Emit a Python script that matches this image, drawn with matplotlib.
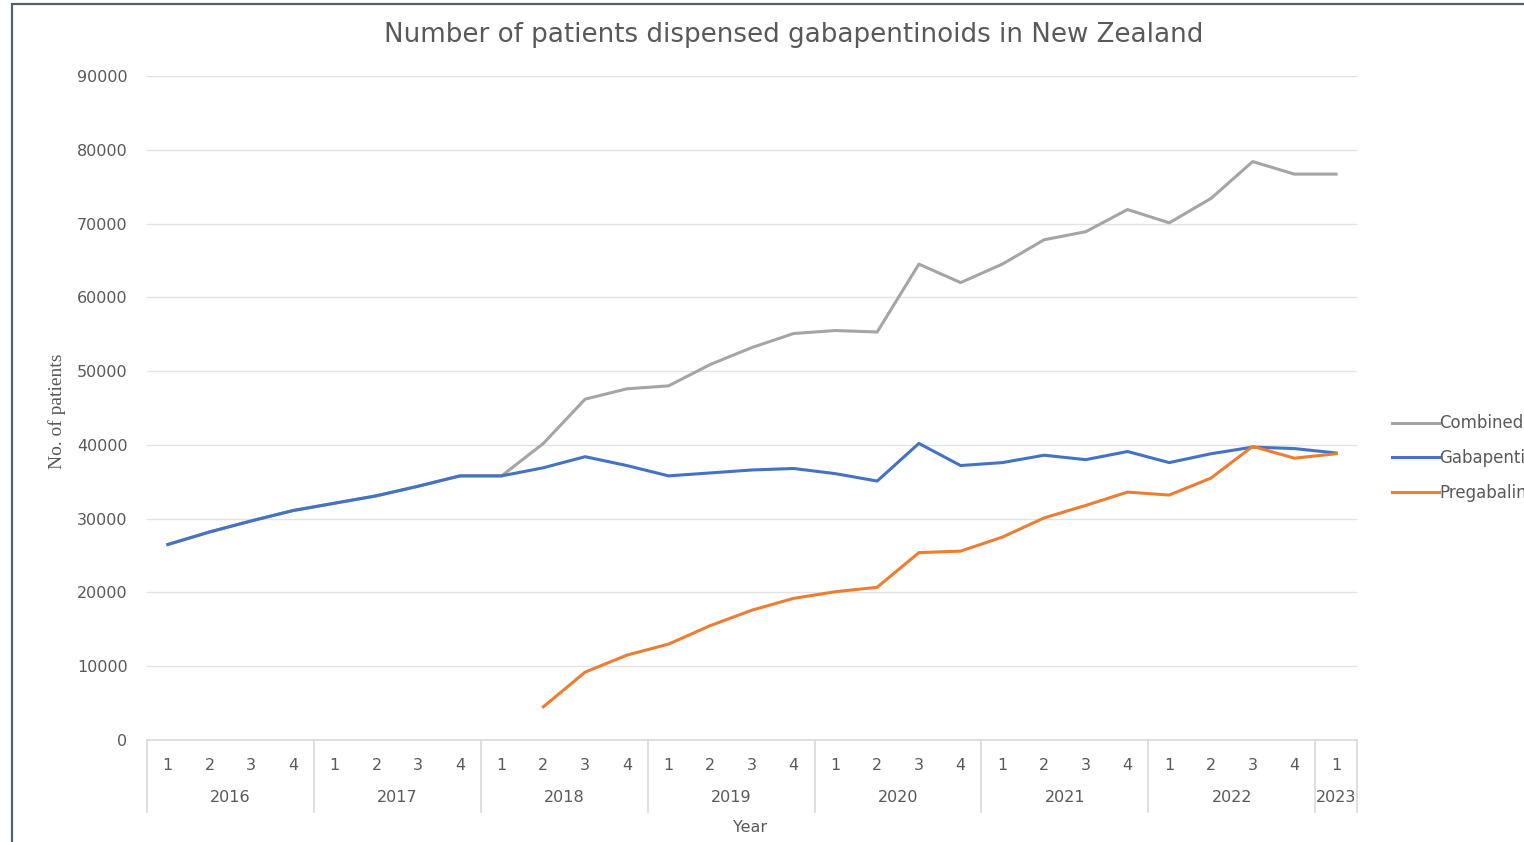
import matplotlib.pyplot as plt
from matplotlib.patches import Rectangle

# Données (trimestres 2016 T1 -> 2023 T1)
trimestres = ["1", "2", "3", "4"] * 7 + ["1"]
annees = ["2016", "2017", "2018", "2019", "2020", "2021", "2022", "2023"]
trimestres_par_annee = [4, 4, 4, 4, 4, 4, 4, 1]

combine = [26500, 28200, 29700, 31100, 32100, 33100, 34400, 35800, 35800,
           40200, 46200, 47600, 48000, 50900, 53200, 55100, 55500, 55300,
           64500, 62000, 64500, 67800, 68900, 71900, 70100, 73400, 78400,
           76700, 76700]
gabapentine = [26500, 28200, 29700, 31100, 32100, 33100, 34400, 35800, 35800,
               36900, 38400, 37200, 35800, 36200, 36600, 36800, 36100, 35100,
               40200, 37200, 37600, 38600, 38000, 39100, 37600, 38800, 39700,
               39500, 38900]
# pregabaline commence au 2e trimestre 2018
debut_pregabaline = 9
pregabaline = [4500, 9200, 11500, 13000, 15500, 17600, 19200, 20100, 20700,
               25400, 25600, 27500, 30100, 31800, 33600, 33200, 35500, 39800,
               38200, 38800]

W, H = 1524, 842
gris_texte = "#595959"
taille = 11.5
plt.rcParams['font.family'] = ['DejaVu Sans']

fig = plt.figure(figsize=(W / 100, H / 100), dpi=100)
# cadre sombre autour du graphique (coupé à droite et en bas)
fig.patches.append(Rectangle((12 / W, -0.1), 1.2, 1 - 4 / H + 0.1,
                             transform=fig.transFigure, fill=False,
                             edgecolor="#4f6470", linewidth=1.6))

ax = fig.add_axes([147 / W, 1 - 740 / H, (1357 - 147) / W, (740 - 76) / H])
x = list(range(len(trimestres)))

ax.plot(x, combine, color="#A5A5A5", lw=2.2, label="Combined", zorder=3)
ax.plot(x, gabapentine, color="#4472C4", lw=2.2, label="Gabapentin", zorder=4)
ax.plot(x[debut_pregabaline:], pregabaline, color="#ED7D31", lw=2.2,
        label="Pregabalin", zorder=5)

ax.set_xlim(-0.5, len(x) - 0.5)
ax.set_ylim(0, 90000)
ax.set_yticks(range(0, 90001, 10000))
ax.tick_params(axis="y", length=0, pad=14, labelsize=taille, labelcolor=gris_texte)
ax.set_xticks([])
ax.grid(axis="y", color="#e3e3e3", lw=1)
for s in ax.spines.values():
    s.set_visible(False)
ax.axhline(0, color="#d9d9d9", lw=1.2, clip_on=False)

# axe des catégories à deux niveaux
trans = ax.get_xaxis_transform()
haut_px = 740 - 76
for i, t in enumerate(trimestres):
    ax.text(i, -(765 - 740) / haut_px, t, transform=trans, ha="center",
            va="center", fontsize=taille, color=gris_texte)
limite = -0.5
ax.plot([limite, limite], [0, -(812 - 740) / haut_px], transform=trans,
        color="#d9d9d9", lw=1.2, clip_on=False)
for annee, n in zip(annees, trimestres_par_annee):
    centre = limite + n / 2
    ax.text(centre, -(798 - 740) / haut_px, annee, transform=trans,
            ha="center", va="center", fontsize=taille, color=gris_texte)
    limite += n
    ax.plot([limite, limite], [0, -(812 - 740) / haut_px], transform=trans,
            color="#d9d9d9", lw=1.2, clip_on=False)

fig.text(750 / W, 1 - 828 / H, "Year", ha="center", va="center",
         fontsize=taille, color=gris_texte)
fig.text(57 / W, 1 - 411 / H, "No. of patients", rotation=90, ha="center",
         va="center", fontsize=14, color=gris_texte, family="Liberation Serif")
fig.text(794 / W, 1 - 35 / H,
         "Number of patients dispensed gabapentinoids in New Zealand",
         ha="center", va="center", fontsize=18.8, color=gris_texte)

# légende à droite, coupée par le bord comme dans l'original
ax.legend(loc="center left", bbox_to_anchor=(1392 / W, 1 - 458 / H),
          bbox_transform=fig.transFigure, frameon=False, fontsize=12,
          handlelength=2.8, handletextpad=0.05, labelspacing=1.0,
          borderpad=0, borderaxespad=0, labelcolor=gris_texte)

fig.savefig("out.png", dpi=100)
